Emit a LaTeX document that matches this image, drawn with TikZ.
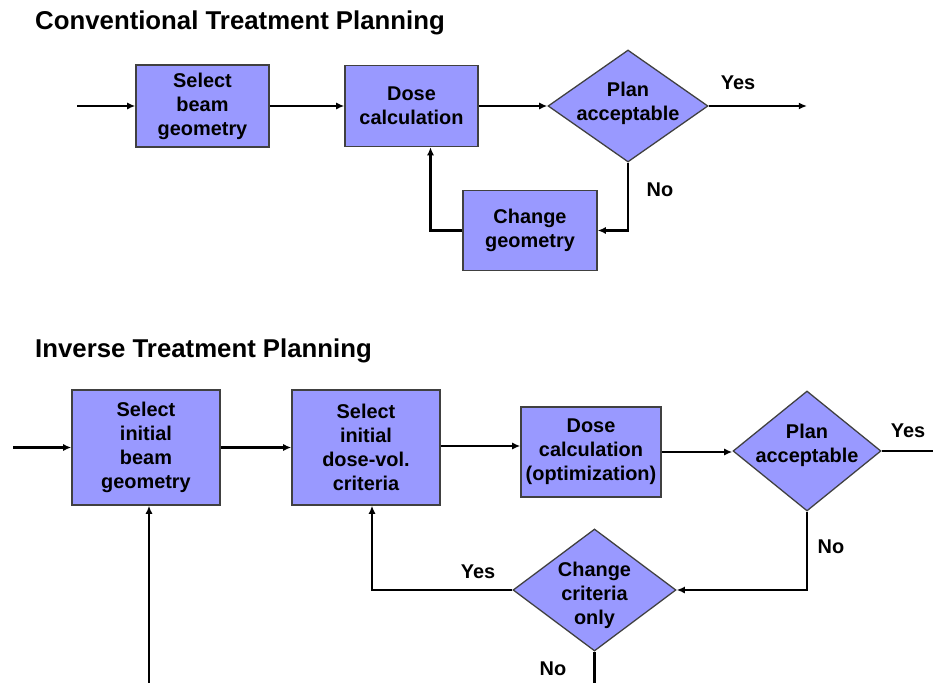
\documentclass[tikz,border=0pt]{standalone}
\usepackage{fontspec}
\setmainfont{Liberation Sans}
\usetikzlibrary{shapes.geometric,arrows.meta,calc}
\definecolor{boxfill}{HTML}{9999FF}
\definecolor{boxline}{HTML}{404040}
\begin{document}
\begin{tikzpicture}[x=0.03cm,y=-0.03cm,
 txt/.style={font=\fontsize{17}{20.5}\selectfont\bfseries, align=center, text=black, inner sep=0pt},
 box/.style={draw=boxline, line width=1.1pt, fill=boxfill, inner sep=0pt, txt},
 dia/.style={diamond, draw=boxline, line width=1.1pt, fill=boxfill, inner sep=0pt},
 conn/.style={line width=2pt, black},
 arr/.style={conn, -{Latex[length=7pt,width=6pt]}},
 lab/.style={txt},
 title/.style={font=\fontsize{22}{26}\selectfont\bfseries, anchor=base west, inner sep=0pt}]
\useasboundingbox (0,0) rectangle (933,683);
\clip (0,0) rectangle (933,683);

% ---------- Conventional ----------
\node[title] (t1) at (35,30) {Conventional Treatment Planning};
\node[box, minimum width=3.99cm, minimum height=2.46cm] (b1) at (202.5,106) {Select\\beam\\geometry};
\node[box, minimum width=3.99cm, minimum height=2.43cm] (b2) at (411.5,106) {Dose\\calculation};
\node[dia, minimum width=4.8cm, minimum height=3.36cm] (d1) at (628,106) {};
\node[txt] (d1t) at (628,103) {Plan\\acceptable};
\node[box, minimum width=4.02cm, minimum height=2.4cm] (b3) at (530,230.5) {Change\\geometry};
\coordinate (in1) at (77,106);
\coordinate (out1) at (807,106);
\draw[arr] (in1) -- (b1.west);
\draw[arr] (b1.east) -- (b2.west);
\draw[arr] (b2.east) -- (d1.west);
\draw[arr] (d1.east) -- (out1);
\draw[arr] (d1.south) |- (b3.east);
\draw[arr] (b3.west) -| ($(b2.south)+(19,0)$);
\node[lab] (y1) at (738,83) {Yes};
\node[lab] (n1) at (660,190) {No};

% ---------- Inverse ----------
\node[title] (t2) at (35,357) {Inverse Treatment Planning};
\node[box, minimum width=4.44cm, minimum height=3.45cm] (ba) at (146,447.5) {Select\\initial\\beam\\geometry};
\node[box, minimum width=4.44cm, minimum height=3.45cm] (bb) at (366,447.5) {Select\\initial\\dose-vol.\\criteria};
\node[box, minimum width=4.2cm, minimum height=2.7cm] (bc) at (591,452) {Dose\\calculation\\(optimization)};
\node[dia, minimum width=4.44cm, minimum height=3.6cm] (dd) at (807,451) {};
\node[txt] (ddt) at (807,445) {Plan\\acceptable};
\node[dia, minimum width=4.89cm, minimum height=3.66cm] (de) at (594.5,590) {};
\node[txt] (det) at (594.5,595) {Change\\criteria\\only};
\coordinate (in2) at (13,447.5);
\coordinate (out2) at (940,451);
\coordinate (lowr) at (594.5,700);
\draw[arr] (in2) -- (ba.west);
\draw[arr] (ba.east) -- (bb.west);
\draw[arr] ($(bb.east)+(0,-1.5)$) -- ($(bb.east -| bc.west)+(0,-1.5)$);
\draw[arr] (bc.east) -- (bc.east -| dd.west);
\draw[conn] (dd.east) -- (out2);
\draw[arr] (dd.south) |- (de.east);
\draw[arr] (de.west) -| ($(bb.south)+(6,0)$);
\draw[arr] (de.south) -- (lowr) -| ($(ba.south)+(3,0)$);
\node[lab] (y2) at (908,431) {Yes};
\node[lab] (n2) at (831,547) {No};
\node[lab] (y3) at (478,572) {Yes};
\node[lab] (n3) at (553,669) {No};
\end{tikzpicture}
\end{document}
